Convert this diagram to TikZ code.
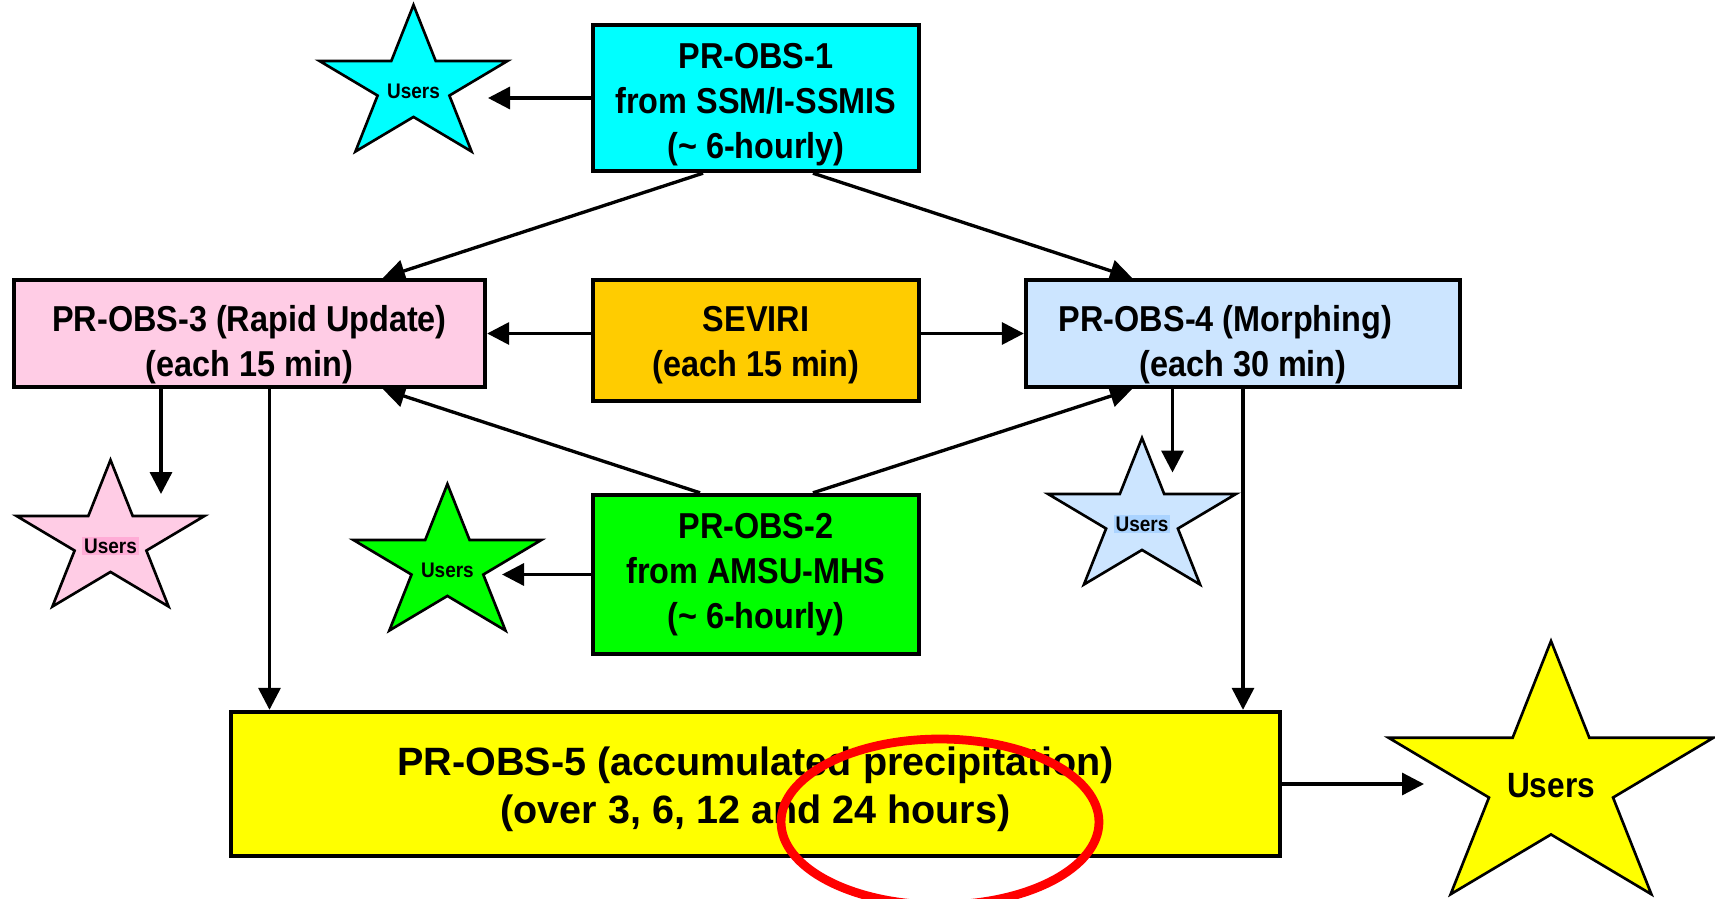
\documentclass[tikz,border=0pt]{standalone}
\usepackage{fontspec}
\setmainfont{Liberation Sans}
\newfontfamily\boxfont[FakeStretch=0.9]{Liberation Sans}
\usetikzlibrary{shapes.geometric,arrows.meta}

\definecolor{obscyan}{RGB}{0,255,255}
\definecolor{obspink}{RGB}{255,204,229}
\definecolor{pinkmark}{RGB}{255,172,214}
\definecolor{obsorange}{RGB}{255,204,0}
\definecolor{obsblue}{RGB}{204,229,255}
\definecolor{bluemark}{RGB}{170,211,255}
\definecolor{obsgreen}{RGB}{0,255,0}
\definecolor{obsyellow}{RGB}{255,255,0}

% pushes the text of a box down a little
\newcommand{\dropstrut}[1]{\rule{0pt}{#1}}

\tikzstyle{product} = [rectangle, draw, line width=2.5pt, align=center, inner sep=0pt,
	font=\boxfont\bfseries\fontsize{20.5}{25.5}\selectfont]
\tikzstyle{users} = [star, star points=5, star point ratio=2.618, draw, line width=1.5pt,
	inner sep=0pt, minimum size=3.24cm, xscale=1.22, transform shape]
\tikzstyle{userstext} = [font=\boxfont\bfseries\fontsize{12}{14}\selectfont, inner sep=1pt]
\tikzstyle{flow} = [-{Triangle[length=0.44cm,width=0.44cm]}, line width=1.9pt]

\begin{document}
\begin{tikzpicture}[x=0.02cm,y=-0.02cm]
\useasboundingbox (0,0) rectangle (1715,899);

% products
\node [product, fill=obscyan, minimum width=6.52cm, minimum height=2.92cm] (obs1) at (756,98)
	{\dropstrut{0.76cm}PR-OBS-1\\from SSM/I-SSMIS\\(\textasciitilde{} 6-hourly)};
\node [product, fill=obspink, minimum width=9.42cm, minimum height=2.14cm] (obs3) at (249.5,333.5)
	{\dropstrut{0.97cm}PR-OBS-3 (Rapid Update)\\(each 15 min)};
\node [product, fill=obsorange, minimum width=6.52cm, minimum height=2.42cm] (seviri) at (756,340.5)
	{\dropstrut{0.69cm}SEVIRI\\(each 15 min)};
\node [product, fill=obsblue, minimum width=8.68cm, minimum height=2.14cm] (obs4) at (1243,333.5)
	{\dropstrut{0.97cm}PR-OBS-4 (Morphing)\hspace*{0.7cm}\\(each 30 min)};
\node [product, fill=obsgreen, minimum width=6.52cm, minimum height=3.18cm] (obs2) at (756,574.5)
	{PR-OBS-2\\from AMSU-MHS\\(\textasciitilde{} 6-hourly)};
\node [product, fill=obsyellow, minimum width=20.98cm, minimum height=2.88cm,
	font=\bfseries\fontsize{22.5}{27.3}\selectfont] (obs5) at (755.5,784)
	{\dropstrut{0.78cm}PR-OBS-5 (accumulated precipitation)\\(over 3, 6, 12 and 24 hours)};

% users
\node [users, fill=obscyan] (u1) at (413.5,86) {};
\node [users, fill=obsgreen] (u2) at (447.4,565) {};
\node [users, fill=obspink] (u3) at (110.5,541) {};
\node [users, fill=obsblue] (u4) at (1142,519) {};
\node [users, fill=obsyellow, minimum size=5.6cm] (u5) at (1551,781) {};
\node [userstext] (l1) at ([yshift=-0.1cm]u1) {Users};
\node [userstext] (l2) at ([yshift=-0.1cm]u2) {Users};
\node [userstext, fill=pinkmark] (l3) at ([yshift=-0.1cm]u3) {Users};
\node [userstext, fill=bluemark] (l4) at ([yshift=-0.1cm]u4) {Users};
\node [userstext, font=\boxfont\bfseries\fontsize{20}{22}\selectfont] (l5) at ([yshift=-0.1cm]u5) {Users};

\coordinate (t1) at (488,98);
\coordinate (t2) at (502,574.5);
\coordinate (t3) at (161,494);
\coordinate (t4) at (1172.5,472.5);
\coordinate (t5) at (1424,784);

% flows
\draw [flow] (obs1.west) -- (t1);
\draw [flow] ([xshift=-1.06cm]obs1.south) -- ([xshift=2.67cm]obs3.north);
\draw [flow] ([xshift=1.14cm]obs1.south) -- ([xshift=-2.22cm]obs4.north);
\draw [flow] (obs3.east -| seviri.west) -- (obs3.east);
\draw [flow] (obs4.west -| seviri.east) -- (obs4.west);
\draw [flow] ([xshift=-1.12cm]obs2.north) -- ([xshift=2.67cm]obs3.south);
\draw [flow] ([xshift=1.14cm]obs2.north) -- ([xshift=-2.22cm]obs4.south);
\draw [flow] (obs2.west) -- (t2);
\draw [flow] (obs3.south -| t3) -- (t3);
\draw [flow] ([xshift=0.4cm]obs3.south) -- ([xshift=0.4cm]obs3.south |- obs5.north);
\draw [flow] (obs4.south -| t4) -- (t4);
\draw [flow] (obs4.south) -- (obs4.south |- obs5.north);
\draw [flow] (obs5.east) -- (t5);

\draw [red, line width=5pt] (940,822) ellipse [x radius=3.18cm, y radius=1.66cm];
\end{tikzpicture}
\end{document}
